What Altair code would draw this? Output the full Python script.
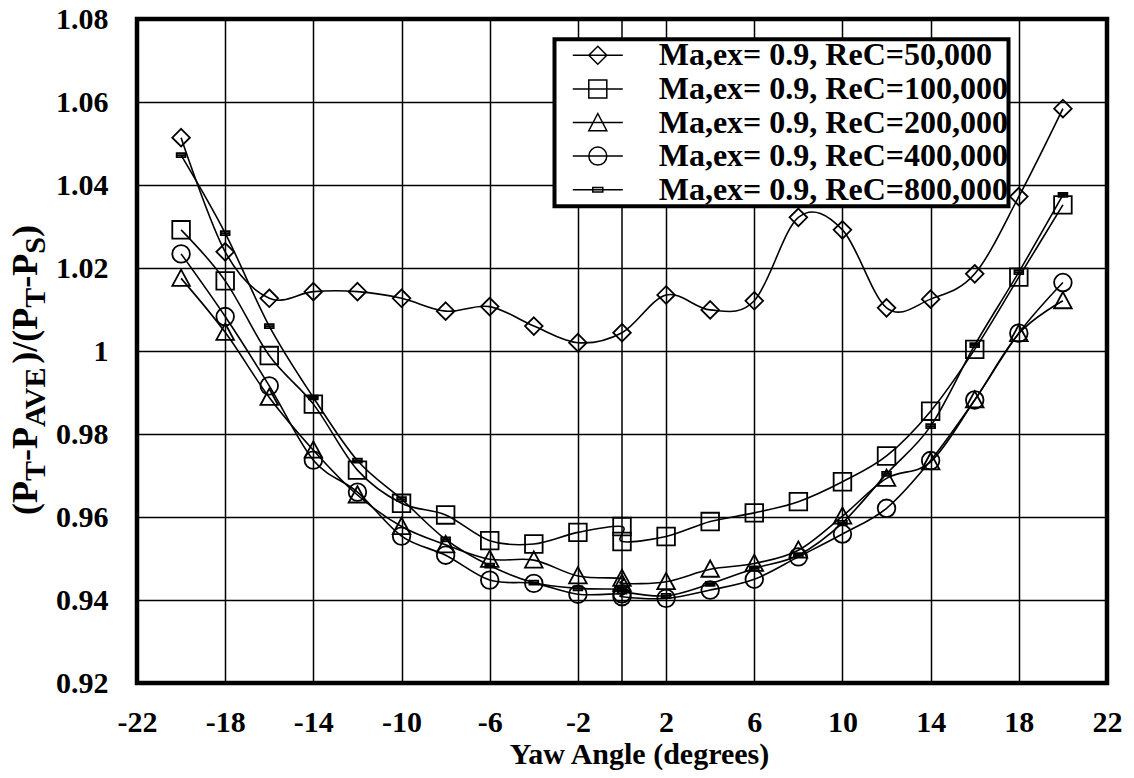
import altair as alt
import pandas as pd

# ---------------- data ----------------
series_names = [
    "Ma,ex= 0.9, ReC=50,000",
    "Ma,ex= 0.9, ReC=100,000",
    "Ma,ex= 0.9, ReC=200,000",
    "Ma,ex= 0.9, ReC=400,000",
    "Ma,ex= 0.9, ReC=800,000",
]

yaw_50k = [-20, -18, -16, -14, -12, -10, -8, -6, -4, -2, 0, 2, 4, 6, 8, 10, 12, 14, 16, 18, 20]
cp_50k = [1.0514, 1.0239, 1.0127, 1.0143, 1.0143, 1.0127, 1.0096, 1.0107, 1.0060, 1.0020, 1.0044,
          1.0135, 1.0099, 1.0121, 1.0322, 1.0292, 1.0104, 1.0125, 1.0186, 1.0372, 1.0584]

yaw_rest = [-20, -18, -16, -14, -12, -10, -8, -6, -4, -2, 0, 0, 2, 4, 6, 8, 10, 12, 14, 16, 18, 20]
cp_100k = [1.0292, 1.0169, 0.9989, 0.9872, 0.9713, 0.9633, 0.9605, 0.9543, 0.9535, 0.9563, 0.9577,
           0.9541, 0.9553, 0.9589, 0.9610, 0.9637, 0.9685, 0.9747, 0.9855, 1.0004, 1.0178, 1.0352]
cp_200k = [1.0175, 1.0045, 0.9888, 0.9761, 0.9653, 0.9577, 0.9533, 0.9498, 0.9496, 0.9458, 0.9452,
           0.9440, 0.9444, 0.9474, 0.9488, 0.9520, 0.9602, 0.9693, 0.9733, 0.9882, 1.0042, 1.0121]
cp_400k = [1.0234, 1.0083, 0.9916, 0.9737, 0.9660, 0.9554, 0.9508, 0.9448, 0.9440, 0.9414, 0.9415,
           0.9408, 0.9404, 0.9424, 0.9450, 0.9504, 0.9559, 0.9621, 0.9736, 0.9882, 1.0043, 1.0165]
cp_800k = [1.0472, 1.0284, 1.0060, 0.9888, 0.9736, 0.9643, 0.9546, 0.9483, 0.9442, 0.9428, 0.9426,
           0.9420, 0.9410, 0.9439, 0.9476, 0.9508, 0.9586, 0.9704, 0.9819, 1.0014, 1.0190, 1.0376]

x_ticks = [-22, -18, -14, -10, -6, -2, 2, 6, 10, 14, 18, 22]
y_ticks = [0.92, 0.94, 0.96, 0.98, 1.00, 1.02, 1.04, 1.06, 1.08]
zero_line = [0]

# ---------------- tables ----------------
rows = []
for name, xs, ys in zip(series_names,
                        [yaw_50k, yaw_rest, yaw_rest, yaw_rest, yaw_rest],
                        [cp_50k, cp_100k, cp_200k, cp_400k, cp_800k]):
    for i, (xv, yv) in enumerate(zip(xs, ys)):
        rows.append({"series": name, "yaw": xv, "cp": yv, "idx": i})
df = pd.DataFrame(rows)
zero_df = pd.DataFrame({"yaw": zero_line})

FONT = "Liberation Serif"
W, H = 970, 664

# marker shapes (custom paths, unit box [-1,1])
plot_paths = [
    "M0,-1L1,0L0,1L-1,0Z",
    "M-1,-1H1V1H-1Z",
    "M0,-1L1,0.85H-1Z",
    "M1,0A1,1,0,1,1,-1,0A1,1,0,1,1,1,0Z",
    "M-0.5,-0.22H0.5V0.22H-0.5ZM-0.5,0H0.5",
]
# legend symbols: 15 px per unit (symbolSize 900), line 50 px long, marker ~18 px
LINE = "M-1.667,0H1.667"
legend_paths = [
    LINE + "M0,-0.6L0.6,0L0,0.6L-0.6,0Z",
    LINE + "M-0.6,-0.6H0.6V0.6H-0.6Z",
    LINE + "M0,-0.6L0.6,0.55H-0.6Z",
    LINE + "M0.6,0A0.6,0.6,0,1,1,-0.6,0A0.6,0.6,0,1,1,0.6,0Z",
    LINE + "M-0.333,-0.15H0.333V0.15H-0.333Z",
]

x_axis = alt.Axis(
    values=x_ticks, labelExpr="'' + datum.value",
    labelFont=FONT, labelFontSize=30, labelFontWeight="bold", labelColor="black",
    labelPadding=24, labelFlush=False, labelOverlap=False,
    ticks=False, tickSize=0, domain=False,
    grid=True, gridColor="black", gridWidth=1.5, gridOpacity=1,
    title="Yaw Angle (degrees)", titleFont=FONT, titleFontSize=30, titleFontWeight="bold",
    titleColor="black", titleBaseline="alphabetic", titleY=80, titleX=502, titleAlign="center",
)
y_axis = alt.Axis(
    values=y_ticks, labelExpr="datum.value == 1 ? '1' : format(datum.value, '.2f')",
    labelFont=FONT, labelFontSize=30, labelFontWeight="bold", labelColor="black",
    labelPadding=29, labelFlush=False, labelOverlap=False,
    ticks=False, tickSize=0, domain=False,
    grid=True, gridColor="black", gridWidth=1.5, gridOpacity=1,
    title=None,
)
X = alt.X("yaw:Q", scale=alt.Scale(domain=[-22, 22], nice=False, zero=False), axis=x_axis)
Y = alt.Y("cp:Q", scale=alt.Scale(domain=[0.92, 1.08], nice=False, zero=False), axis=y_axis)

zero_rule = alt.Chart(zero_df).mark_rule(color="black", strokeWidth=1.5).encode(x=X)

lines = alt.Chart(df).mark_line(
    interpolate="cardinal", color="black", strokeWidth=1.6
).encode(x=X, y=Y, detail="series:N", order="idx:Q")

points = alt.Chart(df).mark_point(
    filled=False, color="black", strokeWidth=1.8, size=310, opacity=1
).encode(
    x=X, y=Y,
    shape=alt.Shape("series:N", scale=alt.Scale(domain=series_names, range=plot_paths), legend=None),
)

legend_layer = alt.Chart(df).mark_point(
    filled=False, color="black", strokeWidth=1.5, size=900, opacity=0
).encode(
    x=X, y=Y,
    shape=alt.Shape(
        "series:N",
        scale=alt.Scale(domain=series_names, range=legend_paths),
        legend=alt.Legend(
            title=None, orient="none", legendX=417.5, legendY=20.3,
            fillColor="white", strokeColor="black", padding=0,
            symbolSize=900, symbolStrokeWidth=1.5, symbolStrokeColor="black",
            symbolFillColor="transparent", symbolOpacity=1, symbolOffset=27.3,
            labelOffset=44.9, labelFont=FONT, labelFontSize=32, labelFontWeight="bold",
            labelColor="black", labelLimit=700, rowPadding=1.6,
            labelExpr="datum.label + '\u00a0\u00a0'",
        ),
    ),
)

# rotated y-axis title with subscripts: "(P_T-P_AVE)/(P_T-P_S)"
M, S = 36, 30
char_w = {"(": 0.333, "P": 0.611, "T": 0.667, "-": 0.333, "A": 0.722, "V": 0.722,
          "E": 0.667, ")": 0.333, "/": 0.278, "S": 0.556}
pieces = [("(P", False), ("T", True), ("-P", False), ("AVE", True), (")/(P", False),
          ("T", True), ("-P", False), ("S", True), (")", False)]
widths = [sum(char_w[c] for c in t) * (S if sub else M) for t, sub in pieces]
total = sum(widths)
title_layers = []
pos = -total / 2
dummy = pd.DataFrame({"k": [0]})
for (t, sub), w in zip(pieces, widths):
    title_layers.append(
        alt.Chart(dummy).mark_text(
            text=t, angle=270, align="left", baseline="alphabetic",
            font=FONT, fontWeight="bold", fontSize=(S if sub else M), color="black",
            dx=pos, dy=(8 if sub else 0),
        ).encode(x=alt.value(-100), y=alt.value(351))
    )
    pos += w

chart = alt.layer(zero_rule, lines, points, legend_layer, *title_layers).resolve_scale(
    shape="independent"
).properties(
    width=W, height=H,
    autosize=alt.AutoSizeParams(type="none"),
    padding={"left": 129, "top": 11, "right": 19, "bottom": 87},
    background="white",
).configure_view(
    stroke="black", strokeWidth=4.5
).configure_legend(
    strokeWidth=4
)

chart.save("out.html", embed_options={"renderer": "svg", "actions": False})
